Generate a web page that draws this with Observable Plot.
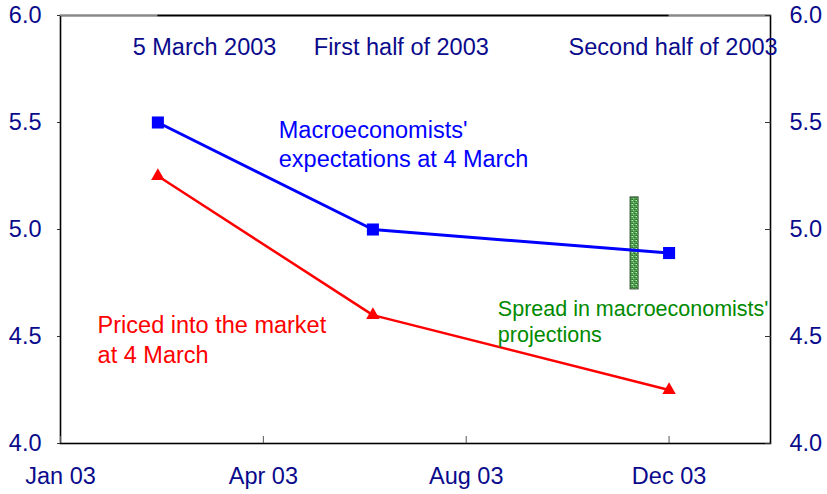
<!DOCTYPE html>
<html>
<head>
<meta charset="utf-8">
<script src="https://cdn.jsdelivr.net/npm/d3@7"></script>
<script src="https://cdn.jsdelivr.net/npm/@observablehq/plot@0.6"></script>
<style>
  html, body { margin: 0; padding: 0; background: #fff; }
  #chart svg { display: block; }
</style>
</head>
<body>
<div id="chart"></div>
<script>
// ---- data ----
const xTicks = [0, 1, 2, 3];
const xTickLabels = ["Jan 03", "Apr 03", "Aug 03", "Dec 03"];
const yTicks = [4.0, 4.5, 5.0, 5.5, 6.0];
const periods = ["5 March 2003", "First half of 2003", "Second half of 2003"];
const periodX = [0.48, 1.54, 3.0];          // position of each projection on the time axis
const periodLabelX = [0.71, 1.68, 3.02];
const periodLabelY = 5.85;
const macroValues = [5.5, 5.0, 4.89];
const marketValues = [5.25, 4.6, 4.25];
const spread = [{x: 2.83, low: 4.72, high: 5.15}];
const seriesLabels = [
  {text: "Macroeconomists'\nexpectations at 4 March", x: 1.076, y: 5.404, color: "#0000ff", size: 23.5, lh: 1.23},
  {text: "Priced into the market\nat 4 March", x: 0.183, y: 4.493, color: "#ff0000", size: 23.5, lh: 1.3},
  {text: "Spread in macroeconomists'\nprojections", x: 2.156, y: 4.575, color: "#008a00", size: 21.5, lh: 1.2}
];

const macro = periods.map((p, i) => ({period: p, x: periodX[i], y: macroValues[i]}));
const market = periods.map((p, i) => ({period: p, x: periodX[i], y: marketValues[i]}));
const tops = periods.map((p, i) => ({text: p, x: periodLabelX[i], y: periodLabelY}));
const navy = "#0a0a8c";

const chart = Plot.plot({
  width: 827,
  height: 494,
  marginLeft: 60,
  marginRight: 57,
  marginTop: 15,
  marginBottom: 51,
  style: {fontFamily: "'Liberation Sans', Arial, sans-serif", fontSize: "23.5px", background: "#fff"},
  x: {domain: [0, 3.5]},
  y: {domain: [4, 6]},
  marks: [
    Plot.frame({stroke: "black", strokeWidth: 1.6}),
    Plot.ruleY([6], {stroke: "#888", strokeWidth: 1.6}),
    Plot.ruleY([6], {x1: d3.min(periodX), x2: d3.max(periodX), stroke: "black", strokeWidth: 1.6}),
    Plot.axisX({ticks: xTicks, tickFormat: (d, i) => xTickLabels[xTicks.indexOf(d)], tickSize: -7, tickPadding: 31, stroke: "#555", fill: navy, fontSize: 23.5, label: null}),
    Plot.axisY({anchor: "left", ticks: yTicks, tickFormat: d3.format(".1f"), tickSize: 3, tickPadding: 16, stroke: "#333", fill: navy, fontSize: 23.5, label: null}),
    Plot.axisY({anchor: "right", ticks: yTicks, tickFormat: d3.format(".1f"), tickSize: -6, tickPadding: 25, stroke: "#333", fill: navy, fontSize: 23.5, label: null}),
    Plot.rect(spread, {x1: "x", x2: "x", y1: "low", y2: "high", insetLeft: -4, insetRight: -4, fill: "url(#speckle)", stroke: "#2f4f2f", strokeWidth: 1}),
    Plot.line(macro, {x: "x", y: "y", stroke: "#0000ff", strokeWidth: 3}),
    Plot.line(market, {x: "x", y: "y", stroke: "#ff0000", strokeWidth: 2.5}),
    Plot.dot(macro, {x: "x", y: "y", symbol: "square", r: 6.8, fill: "#0000ff"}),
    Plot.dot(market, {x: "x", y: "y", symbol: "triangle", r: 5, fill: "#ff0000"}),
    Plot.text(tops, {x: "x", y: "y", text: "text", fill: navy, fontSize: 23.5, textAnchor: "middle"}),
    ...seriesLabels.map(s => Plot.text([s], {x: "x", y: "y", text: "text", fill: s.color, fontSize: s.size, lineHeight: s.lh, textAnchor: "start"}))
  ]
});

// speckled green pattern for the spread bar
const svg = d3.select(chart);
const defs = svg.insert("defs", ":first-child");
const pat = defs.append("pattern").attr("id", "speckle").attr("patternUnits", "userSpaceOnUse").attr("width", 4).attr("height", 4);
pat.append("rect").attr("width", 4).attr("height", 4).attr("fill", "#4f9f4f");
const speck = [[0,0,"#bfe8bf"],[2,1,"#2e6e2e"],[1,2,"#9ad59a"],[3,3,"#3c8a3c"],[3,0,"#7cc47c"],[0,3,"#2e6e2e"]];
speck.forEach(([x, y, c]) => pat.append("rect").attr("x", x).attr("y", y).attr("width", 1).attr("height", 1).attr("fill", c));

document.getElementById("chart").appendChild(chart);
</script>
</body>
</html>
